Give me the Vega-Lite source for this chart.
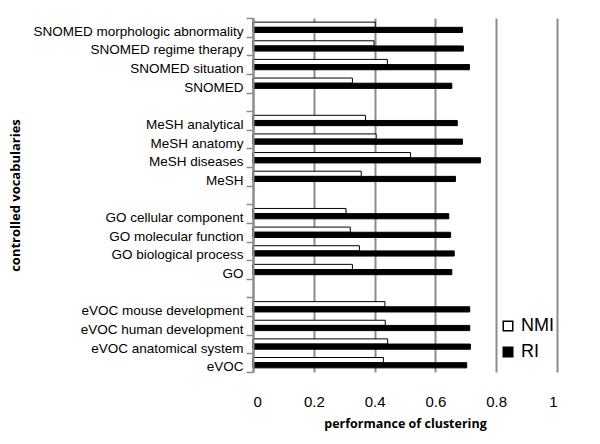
{
  "$schema": "https://vega.github.io/schema/vega-lite/v6.json",
  "width": 304,
  "height": 354,
  "autosize": {"type": "none"},
  "padding": {"left": 253, "top": 18, "right": 43, "bottom": 72},
  "background": "white",
  "config": {"view": {"stroke": null}, "font": "Liberation Sans"},
  "data": {
    "values": [
      {"vocabulary": "SNOMED morphologic abnormality", "measure": "NMI", "value": 0.402},
      {"vocabulary": "SNOMED morphologic abnormality", "measure": "RI", "value": 0.689},
      {"vocabulary": "SNOMED regime therapy", "measure": "NMI", "value": 0.398},
      {"vocabulary": "SNOMED regime therapy", "measure": "RI", "value": 0.692},
      {"vocabulary": "SNOMED situation", "measure": "NMI", "value": 0.442},
      {"vocabulary": "SNOMED situation", "measure": "RI", "value": 0.712},
      {"vocabulary": "SNOMED", "measure": "NMI", "value": 0.327},
      {"vocabulary": "SNOMED", "measure": "RI", "value": 0.654},
      {"vocabulary": "MeSH analytical", "measure": "NMI", "value": 0.370},
      {"vocabulary": "MeSH analytical", "measure": "RI", "value": 0.672},
      {"vocabulary": "MeSH anatomy", "measure": "NMI", "value": 0.405},
      {"vocabulary": "MeSH anatomy", "measure": "RI", "value": 0.689},
      {"vocabulary": "MeSH diseases", "measure": "NMI", "value": 0.518},
      {"vocabulary": "MeSH diseases", "measure": "RI", "value": 0.748},
      {"vocabulary": "MeSH", "measure": "NMI", "value": 0.356},
      {"vocabulary": "MeSH", "measure": "RI", "value": 0.666},
      {"vocabulary": "GO cellular component", "measure": "NMI", "value": 0.306},
      {"vocabulary": "GO cellular component", "measure": "RI", "value": 0.644},
      {"vocabulary": "GO molecular function", "measure": "NMI", "value": 0.320},
      {"vocabulary": "GO molecular function", "measure": "RI", "value": 0.650},
      {"vocabulary": "GO biological  process", "measure": "NMI", "value": 0.350},
      {"vocabulary": "GO biological  process", "measure": "RI", "value": 0.662},
      {"vocabulary": "GO", "measure": "NMI", "value": 0.327},
      {"vocabulary": "GO", "measure": "RI", "value": 0.654},
      {"vocabulary": "eVOC mouse development", "measure": "NMI", "value": 0.434},
      {"vocabulary": "eVOC mouse development", "measure": "RI", "value": 0.713},
      {"vocabulary": "eVOC human development", "measure": "NMI", "value": 0.435},
      {"vocabulary": "eVOC human development", "measure": "RI", "value": 0.713},
      {"vocabulary": "eVOC anatomical system", "measure": "NMI", "value": 0.443},
      {"vocabulary": "eVOC anatomical system", "measure": "RI", "value": 0.715},
      {"vocabulary": "eVOC", "measure": "NMI", "value": 0.429},
      {"vocabulary": "eVOC", "measure": "RI", "value": 0.703}
    ]
  },
  "mark": {"type": "bar", "stroke": "black", "strokeWidth": 1},
  "encoding": {
    "y": {
      "field": "vocabulary",
      "type": "nominal",
      "scale": {
        "domain": [
          "SNOMED morphologic abnormality", "SNOMED regime therapy", "SNOMED situation", "SNOMED", "gap1",
          "MeSH analytical", "MeSH anatomy", "MeSH diseases", "MeSH", "gap2",
          "GO cellular component", "GO molecular function", "GO biological  process", "GO", "gap3",
          "eVOC mouse development", "eVOC human development", "eVOC anatomical system", "eVOC"
        ],
        "paddingInner": 0,
        "paddingOuter": 0
      },
      "axis": {
        "title": "controlled vocabularies",
        "titleFont": "Open Sans",
        "titleFontWeight": "bold",
        "titleFontSize": 13,
        "titleColor": "black",
        "titleX": -238,
        "titleBaseline": "middle",
        "labelExpr": "indexof(datum.label, 'gap') == 0 ? '' : datum.label",
        "labelFontSize": 13.5,
        "labelColor": "black",
        "labelPadding": 3,
        "labelOffset": 4,
        "labelLimit": 300,
        "domain": true,
        "domainColor": "#8c8c8c",
        "domainWidth": 2,
        "ticks": true,
        "tickColor": "#8c8c8c",
        "tickOpacity": 1,
        "tickWidth": 1.5,
        "tickSize": 7,
        "tickBand": "extent",
        "grid": false,
        "zindex": 2
      }
    },
    "yOffset": {
      "field": "measure",
      "type": "nominal",
      "scale": {"domain": ["NMI", "RI"], "paddingOuter": 0.8, "paddingInner": 0}
    },
    "x": {
      "field": "value",
      "type": "quantitative",
      "scale": {"domain": [0, 1], "nice": false},
      "axis": {
        "values": [0, 0.2, 0.4, 0.6, 0.8, 1],
        "format": "~g",
        "grid": true,
        "gridColor": "#8c8c8c",
        "gridWidth": 2,
        "domain": false,
        "ticks": false,
        "labelFontSize": 15,
        "labelColor": "black",
        "labelPadding": 22,
        "title": "performance of clustering",
        "titleFont": "Open Sans",
        "titleFontWeight": "bold",
        "titleFontSize": 12.5,
        "titleColor": "black",
        "titlePadding": 8
      }
    },
    "color": {
      "field": "measure",
      "type": "nominal",
      "scale": {"domain": ["NMI", "RI"], "range": ["white", "black"]},
      "legend": {
        "title": null,
        "orient": "none",
        "legendX": 246,
        "legendY": 299,
        "padding": 0,
        "symbolType": "square",
        "symbolSize": 90,
        "symbolStrokeColor": "black",
        "symbolStrokeWidth": 1.5,
        "labelFontSize": 18,
        "labelColor": "black",
        "labelOffset": 4,
        "rowPadding": 8
      }
    }
  }
}
